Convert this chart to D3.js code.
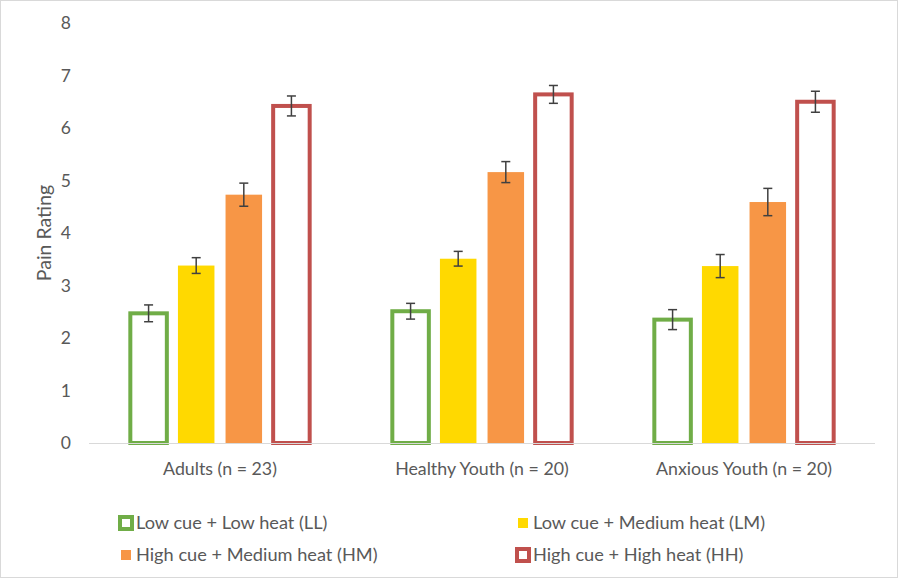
<!DOCTYPE html>
<html>
<head>
<meta charset="utf-8">
<script src="https://cdn.jsdelivr.net/npm/d3@7"></script>
<style>
  html, body { margin: 0; padding: 0; background: #fff; }
  svg { display: block; }
  text { font-family: Lato, "Open Sans", sans-serif; fill: #595959; }
</style>
</head>
<body>
<svg id="chart" width="900" height="579"></svg>
<script>
// ---- data ----
const categories = ["Adults (n = 23)", "Healthy Youth (n = 20)", "Anxious Youth (n = 20)"];
const seriesNames = ["Low cue + Low heat (LL)", "Low cue + Medium heat (LM)", "High cue + Medium heat (HM)", "High cue + High heat (HH)"];
const seriesKeys = ["LL", "LM", "HM", "HH"];
const meanLL = [2.47, 2.51, 2.35];
const meanLM = [3.38, 3.51, 3.37];
const meanHM = [4.73, 5.16, 4.59];
const meanHH = [6.42, 6.64, 6.50];
const errLL = [0.16, 0.15, 0.19];
const errLM = [0.15, 0.14, 0.22];
const errHM = [0.22, 0.20, 0.26];
const errHH = [0.19, 0.17, 0.20];
const yTicks = [0, 1, 2, 3, 4, 5, 6, 7, 8];
const yTitle = "Pain Rating";

// ---- styles ----
const styles = {
  LL: { fill: "#ffffff", stroke: "#70ad47", hollow: true },
  LM: { fill: "#ffd900", stroke: "none", hollow: false },
  HM: { fill: "#f79646", stroke: "none", hollow: false },
  HH: { fill: "#ffffff", stroke: "#c0504d", hollow: true }
};

const means = { LL: meanLL, LM: meanLM, HM: meanHM, HH: meanHH };
const errs = { LL: errLL, LM: errLM, HM: errHM, HH: errHH };

const rows = [];
categories.forEach((c, i) => {
  seriesKeys.forEach(k => rows.push({ cat: c, key: k, v: means[k][i], e: errs[k][i] }));
});

const svg = d3.select("#chart");

// chart border
svg.append("rect").attr("x", 0.5).attr("y", 0.5).attr("width", 897).attr("height", 577)
  .attr("fill", "#fff").attr("stroke", "#d9d9d9").attr("stroke-width", 1);

const y = d3.scaleLinear().domain([0, 8]).range([443, 23]);
const x0 = d3.scaleBand().domain(categories).range([89, 875]).padding(0);
const x1 = d3.scaleBand().domain(seriesKeys).range([0, x0.bandwidth()])
  .paddingInner(0.233).paddingOuter(0.868);

// y tick labels
svg.append("g").selectAll("text").data(yTicks).join("text")
  .attr("x", 71).attr("y", d => y(d)).attr("dy", "0.35em")
  .attr("text-anchor", "end").style("font-size", "17.5px").text(d => d);

// y title
svg.append("text").attr("transform", `translate(44,${(y(0) + y(8)) / 2}) rotate(-90)`)
  .attr("text-anchor", "middle").attr("dy", "0.35em").style("font-size", "19.5px").text(yTitle);

// bars
const bw = x1.bandwidth();
svg.append("g").selectAll("rect").data(rows).join("rect")
  .attr("x", d => x0(d.cat) + x1(d.key))
  .attr("y", d => y(d.v))
  .attr("width", bw)
  .attr("height", d => y(0) - y(d.v))
  .attr("fill", d => styles[d.key].fill)
  .attr("stroke", d => styles[d.key].stroke)
  .attr("stroke-width", d => styles[d.key].hollow ? 4 : 0);

// baseline axis
svg.append("line").attr("x1", x0.range()[0]).attr("x2", x0.range()[1])
  .attr("y1", y(0) + 0.5).attr("y2", y(0) + 0.5)
  .attr("stroke", "#d9d9d9").attr("stroke-width", 1);

// error bars
const eg = svg.append("g").attr("stroke", "#404040").attr("stroke-width", 1.5);
rows.forEach(d => {
  const cx = x0(d.cat) + x1(d.key) + bw / 2;
  eg.append("line").attr("x1", cx).attr("x2", cx).attr("y1", y(d.v + d.e)).attr("y2", y(d.v - d.e));
  eg.append("line").attr("x1", cx - 4.5).attr("x2", cx + 4.5).attr("y1", y(d.v + d.e)).attr("y2", y(d.v + d.e));
  eg.append("line").attr("x1", cx - 4.5).attr("x2", cx + 4.5).attr("y1", y(d.v - d.e)).attr("y2", y(d.v - d.e));
});

// category labels
svg.append("g").selectAll("text").data(categories).join("text")
  .attr("x", d => x0(d) + x0.bandwidth() / 2).attr("y", 469).attr("dy", "0.35em")
  .attr("text-anchor", "middle").style("font-size", "17.8px").text(d => d);

// legend
const legCols = [118, 515];
const legRows = [523, 555];
const lg = svg.append("g");
seriesKeys.forEach((k, i) => {
  const lx = legCols[i % 2], ly = legRows[Math.floor(i / 2)];
  const st = styles[k];
  if (st.hollow) {
    lg.append("rect").attr("x", lx + 2).attr("y", ly - 6).attr("width", 12).attr("height", 12)
      .attr("fill", "#fff").attr("stroke", st.stroke).attr("stroke-width", 4);
  } else {
    lg.append("rect").attr("x", lx + 3).attr("y", ly - 5).attr("width", 10).attr("height", 10)
      .attr("fill", st.fill);
  }
  lg.append("text").attr("x", lx + 18).attr("y", ly).attr("dy", "0.35em")
    .style("font-size", "18.2px").text(seriesNames[i]);
});
</script>
</body>
</html>
